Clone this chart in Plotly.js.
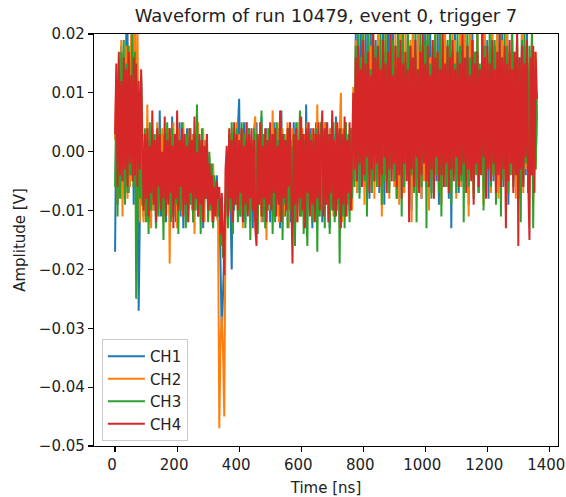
<!DOCTYPE html>
<html><head><meta charset="utf-8">
<script src="https://cdn.plot.ly/plotly-3.0.1.min.js"></script>
<style>html,body{margin:0;padding:0;background:#fff}#chart{width:566px;height:497px}</style>
</head><body><div id="chart"></div>
<script>
// Sample times (ns)
const time_ns = [
0,4,8,12,16,20,24,28,32,36,40,44,48,52,56,60,64,68,72,76,80,84,88,92,96,
100,104,108,112,116,120,124,128,132,136,140,144,148,152,156,160,164,168,172,176,180,184,188,192,196,
200,204,208,212,216,220,224,228,232,236,240,244,248,252,256,260,264,268,272,276,280,284,288,292,296,
300,304,308,312,316,320,324,328,332,336,340,344,348,352,356,360,364,368,372,376,380,384,388,392,396,
400,404,408,412,416,420,424,428,432,436,440,444,448,452,456,460,464,468,472,476,480,484,488,492,496,
500,504,508,512,516,520,524,528,532,536,540,544,548,552,556,560,564,568,572,576,580,584,588,592,596,
600,604,608,612,616,620,624,628,632,636,640,644,648,652,656,660,664,668,672,676,680,684,688,692,696,
700,704,708,712,716,720,724,728,732,736,740,744,748,752,756,760,764,768,772,776,780,784,788,792,796,
800,804,808,812,816,820,824,828,832,836,840,844,848,852,856,860,864,868,872,876,880,884,888,892,896,
900,904,908,912,916,920,924,928,932,936,940,944,948,952,956,960,964,968,972,976,980,984,988,992,996,
1000,1004,1008,1012,1016,1020,1024,1028,1032,1036,1040,1044,1048,1052,1056,1060,1064,1068,1072,1076,1080,1084,1088,1092,1096,
1100,1104,1108,1112,1116,1120,1124,1128,1132,1136,1140,1144,1148,1152,1156,1160,1164,1168,1172,1176,1180,1184,1188,1192,1196,
1200,1204,1208,1212,1216,1220,1224,1228,1232,1236,1240,1244,1248,1252,1256,1260,1264,1268,1272,1276,1280,1284,1288,1292,1296,
1300,1304,1308,1312,1316,1320,1324,1328,1332,1336,1340,1344,1348,1352,1356,1360];

// Amplitudes in mV
const ch1_mV = [
-17,8,-9,12,-6,18,-8,14,-5,20, 21,-7,16,-4,12,-9,15,-6,11,-27, -10,13,-8,
-11,2,-9,4,-12,1,-8,3,-10,0, -13,2,-7,7,-11,3,-9,1,-12,2, -8,4,-10,6,-9,3,-12,2,-7,5,
-11,1,-13,3,-8,4,-10,0,-9,3, -12,2,-7,4,-11,1,-9,3,-13,2, -8,0,-11,-1,-10,-3,-12,-5,-9,-4, -11,
-8,-18,-31,-24,-14,-10,
-3,-12,2,-9,-20,3,-10,1,-8,4, 9,-11,3,-9,5,-12,2,-7,4,-10, 1,-13,3,-8,5,-11,2,-9,6,-12,
2,-8,4,-10,1,-12,3,-9,5,-11, 2,-7,4,-13,7,-9,3,-11,1,-8, 4,-12,2,-10,5,-14,3,-8,2,-11,
4,-9,1,-12,8,-10,3,-7,4,-13, 2,-9,5,-11,3,-8,4,-12,1,-10, 5,-9,2,-13,4,-8,3,-11,6,-10,
2,-12,4,-9,3,-11,5,-8,2,-10, 4,-9,
8,-5,20,-3,17,-7,22,-2,15,-6, 21,-4,18,-8,23,-1,16,-5,19,-3, 22,-7,14,-2,20,-9,17,-4,21,-6,
15,-3,23,-5,18,-8,16,-2,22,-4, 19,-7,14,-1,21,-6,17,-10,20,-3, 16,-5,22,-2,18,-8,15,-4,23,-6,
19,-3,21,-7,14,-1,17,-5,22,-9, 16,-4,20,-2,18,-6,15,-8,21,-13, 17,-3,22,-5,14,-7,19,-2,16,-6,
23,-4,18,-9,15,-1,21,-5,17,-3, 20,-7,14,-2,22,-6,16,-4,19,-8, 15,-1,21,-5,18,-3,23,-7,16,-2,
20,-6,14,-4,22,-9,17,-1,19,-5, 15,-3,21,-8,16,-2,23,-6,18,-4, 20,-7,14,-3,19,-5,16,-2,7];

const ch2_mV = [
2,12,-9,16,-7,19,-11,14,-5,18, -8,15,-6,21,-4,17,24,-9,22,-5, -12,11,-7,
-12,3,-9,8,-8,1,-13,4,-10,2, -7,5,-11,0,-9,4,-12,3,-8,2, 4,-19,3,-10,5,-9,1,-13,4,-8,
2,-11,5,-7,3,-12,0,-9,4,-10, 3,-14,2,-8,5,-11,1,-9,4,-12, 2,-8,-1,-10,-3,-12,-2,-9,-5,-11, -12,
-47,-32,-28,-34,-45,-12,
-2,-10,3,-8,4,-12,2,-9,5,-11, 3,-8,4,-13,2,-10,5,-9,3,-12, 2,-7,4,6,-11,3,-9,5,-12,1,
-8,3,-15,4,-10,2,-9,7,-11,3, -8,5,-12,2,-9,4,-11,3,-7,5, -13,2,-9,4,-10,3,-12,5,-8,2,
-11,4,-9,3,-13,5,-8,2,-10,4, -12,3,-7,8,-11,2,-9,4,-10,5, -8,3,-12,4,-9,6,-11,2,-7,5,
-10,3,10,-12,4,-9,5,-11,2,-8, 4,-10,
11,-4,19,-7,23,-2,16,-5,21,-9, 15,-3,22,-6,18,-1,20,-8,16,-4, 23,-6,19,-11,14,-3,21,-5,17,-8,
22,-2,15,-6,20,-4,18,-9,23,-1, 16,-7,21,-3,14,-5,19,-12,22,-4, 17,-6,20,-2,15,-8,23,-5,18,-3,
21,-10,16,-4,19,-7,22,-2,17,-6, 20,-9,15,-3,22,-5,18,-1,16,-7, 23,-4,19,-8,14,-2,21,-6,17,-3,
20,-5,15,-11,22,-4,18,-7,16,-2, 21,-6,14,-3,19,-9,23,-5,17,-1, 15,-7,20,-4,18,-2,22,-8,16,-5,
19,-3,14,-10,21,-6,17,-2,23,-4, 16,-8,20,-5,15,-1,22,-7,18,-3, 19,-6,15,-4,21,-9,17,-3,8];

const ch3_mV = [
-6,10,-11,14,-8,17,-5,19,-9,15, -7,18,-4,13,22,-6,17,-25,-12,9, -8,12,-9,
-9,4,-12,2,-14,5,-10,1,-8,3, -13,2,-11,4,-9,0,-15,3,-10,5, -8,2,-12,4,-11,1,-9,3,-14,2,
-10,5,-8,1,-13,3,-11,4,-9,2, -12,3,-10,8,-9,2,-14,4,-11,1, -8,3,-12,0,-10,-2,-13,-4,-9,-5, -11,
-9,-16,-11,-18,-13,-6,
-4,-13,3,-10,5,-14,2,-9,4,-12, 1,-11,5,-8,3,-13,2,-10,4,-15, 1,-9,4,-12,3,-14,2,-8,7,-11,
3,-13,2,-10,4,-9,1,-14,3,-12, 5,-8,2,-11,4,-15,3,-9,2,-13, 4,-10,1,-12,3,-16,5,-9,2,7,
-11,3,-14,2,-10,-16,4,-8,3,-12, 2,-9,4,-17,3,-11,5,-10,2,-13, 4,-8,3,-14,2,-10,5,-12,1,-9,
3,-19,4,-11,2,-13,5,-9,3,-12, 4,-8,
9,-6,18,-3,22,-8,16,-2,20,-5, 17,-11,21,-4,14,-7,22,-1,18,-6, 15,-3,20,-9,17,-5,21,-4,16,-7,
22,-2,19,-5,14,-8,20,-3,17,-11, 21,-6,15,-2,22,-9,18,-4,16,-7, 20,-12,14,-3,21,-6,17,-1,19,-13,
22,-5,15,-8,18,-3,20,-4,16,-7, 21,-11,14,-3,10,-6,19,-2,22,-9, 17,-4,15,-7,20,-2,18,-5,21,-12,
14,-3,22,-6,16,-1,19,-8,17,-4, 20,-7,15,-3,21,-10,18,-5,14,-2, 22,-6,17,-4,19,-9,15,-3,20,-11,
16,-5,21,-2,18,-7,14,-4,22,-6, 17,-3,20,-8,15,-12,19,-5,21,-2, 16,-7,18,-4,20,-13,14,-3,10];

const ch4_mV = [
3,15,-6,17,-4,12,-5,16,-3,14, -6,17,-2,13,-5,16,-4,15,-6,12, -3,14,2,
-10,3,-8,4,-11,1,-7,7,-9,2, -12,4,-6,3,-10,0,-8,6,-11,2, -9,4,-7,1,-13,3,-8,7,-10,2,
-6,4,-11,3,-9,1,-12,4,-7,2, -10,6,-8,0,-11,3,-9,2,-12,1, -8,3,-10,-2,-9,-4,-12,-6,-11,-5, -8,
-6,-14,-7,-17,-21,-3,
1,-11,4,-8,2,-12,5,-9,3,-10, 2,-7,4,-12,1,-9,5,-11,3,-8, 4,-10,2,-13,-16,3,-9,5,-11,1,
-8,4,-12,2,-9,5,-10,3,-7,4, -11,1,-9,7,-12,3,-8,2,-10,4, -6,5,-11,-19,3,-9,4,-12,2,-8,
6,-10,3,-13,4,-7,5,-11,2,-9, 4,-12,3,-8,5,-10,2,7,-11,4, -9,5,-12,3,-7,7,-10,2,-11,5,
-8,4,-13,3,-9,6,-11,2,-7,5, -10,4,
10,-3,16,-5,18,-2,14,-6,19,-4, 15,-1,17,-7,13,-3,20,-5,16,-2, 18,-6,14,-4,19,-1,15,-7,17,-3,
20,-5,13,-2,18,-6,16,-4,19,-8, 15,-2,17,-5,14,-12,18,-3,16,-6, 19,-1,14,-7,17,-4,20,-2,15,-5,
18,-6,13,-3,19,-8,16,-1,17,-5, 14,-4,20,-6,15,-2,18,-7,16,-3, 19,-5,14,-1,17,-6,15,-4,20,-2,
16,-7,18,-3,13,-5,19,-9,15,-2, 17,-6,14,-4,20,-1,16,-8,18,-3, 15,-5,19,-2,14,-7,17,-4,20,-6,
16,-3,18,-13,15,-5,19,-2,14,-7, 17,-4,20,-16,16,-3,18,-6,15,-1, 19,-5,-15,16,-4,18,-7,17,9];

const channelNames = ['CH1','CH2','CH3','CH4'];
const xTicks = [0,200,400,600,800,1000,1200,1400];
const yTicks = [0.02,0.01,0.00,-0.01,-0.02,-0.03,-0.04,-0.05];

const colors = ['#1f77b4','#ff7f0e','#2ca02c','#d62728'];
const series = [ch1_mV, ch2_mV, ch3_mV, ch4_mV];
const traces = series.map((d, k) => ({
  type: 'scatter', mode: 'lines',
  x: time_ns, y: d.map(v => v / 1000),
  name: channelNames[k],
  line: {color: colors[k], width: 2},
  hoverinfo: 'skip'
}));

const axisCommon = {
  showline: true, mirror: true, linecolor: '#000', linewidth: 1.2,
  ticks: 'outside', ticklen: 5, tickwidth: 1.2, tickcolor: '#000',
  showgrid: false, zeroline: false,
  tickfont: {size: 15, color: '#222'}
};

const layout = {
  width: 566, height: 497,
  margin: {l: 94, r: 8, t: 34, b: 51},
  paper_bgcolor: '#fff', plot_bgcolor: '#fff',
  font: {family: 'DejaVu Sans, sans-serif', size: 15, color: '#222'},
  showlegend: true,
  title: {text: 'Waveform of run 10479, event 0, trigger 7', font: {size: 18, color: '#222'},
          x: 0.5, xref: 'paper', xanchor: 'center', y: 1, yref: 'paper', yanchor: 'bottom', pad: {b: 12}},
  xaxis: Object.assign({}, axisCommon, {
    range: [-68, 1428], tickmode: 'array', tickvals: xTicks, ticktext: xTicks.map(String),
    ticklabeloverflow: 'allow', ticklabelshift: -3,
    title: {text: 'Time [ns]', font: {size: 15, color: '#222'}, standoff: 10}
  }),
  yaxis: Object.assign({}, axisCommon, {
    range: [-0.05, 0.02], tickmode: 'array', tickvals: yTicks, tickformat: '.2f',
    title: {text: 'Amplitude [V]', font: {size: 15, color: '#222'}, standoff: 9}
  }),
  legend: {
    x: 0.017, y: 0.012, xanchor: 'left', yanchor: 'bottom',
    bgcolor: 'rgba(255,255,255,0.8)', bordercolor: '#cccccc', borderwidth: 1,
    font: {size: 15, color: '#222'}, traceorder: 'normal', itemwidth: 37
  }
};

Plotly.newPlot('chart', traces, layout, {staticPlot: true, displayModeBar: false});
</script>
</body></html>
